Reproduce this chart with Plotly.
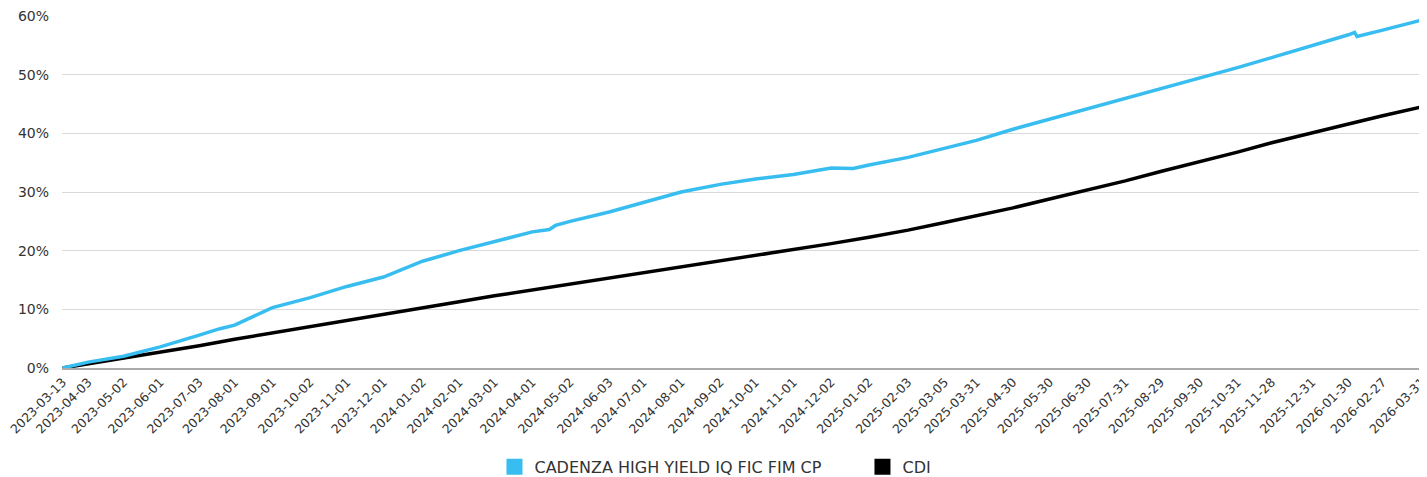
import plotly.graph_objects as go

tick_dates = ["2023-03-13", "2023-04-03", "2023-05-02", "2023-06-01", "2023-07-03", "2023-08-01",
              "2023-09-01", "2023-10-02", "2023-11-01", "2023-12-01", "2024-01-02", "2024-02-01",
              "2024-03-01", "2024-04-01", "2024-05-02", "2024-06-03", "2024-07-01", "2024-08-01",
              "2024-09-02", "2024-10-01", "2024-11-01", "2024-12-02", "2025-01-02", "2025-02-03",
              "2025-03-05", "2025-03-31", "2025-04-30", "2025-05-30", "2025-06-30", "2025-07-31",
              "2025-08-29", "2025-09-30", "2025-10-31", "2025-11-28", "2025-12-31", "2026-01-30",
              "2026-02-27", "2026-03-31"]

fund_dates = ["2023-03-13", "2023-04-03", "2023-05-02", "2023-06-01", "2023-07-03", "2023-07-20",
              "2023-08-01", "2023-09-01", "2023-10-02", "2023-11-01", "2023-12-01", "2024-01-02",
              "2024-02-01", "2024-03-01", "2024-04-01", "2024-04-15", "2024-04-20", "2024-05-02",
              "2024-06-03", "2024-07-01", "2024-08-01", "2024-09-02", "2024-10-01", "2024-11-01",
              "2024-12-02", "2024-12-20", "2025-01-02", "2025-02-03", "2025-03-05", "2025-03-31",
              "2025-04-30", "2025-05-30", "2025-06-30", "2025-07-31", "2025-08-29", "2025-09-30",
              "2025-10-31", "2025-11-28", "2025-12-31", "2026-01-30", "2026-02-04", "2026-02-06",
              "2026-02-27", "2026-03-31"]
fund_values = [0.0, 1.0, 2.0, 3.6, 5.6, 6.7,
               7.3, 10.3, 12.0, 13.9, 15.5, 18.2,
               20.0, 21.6, 23.2, 23.6, 24.3, 25.0,
               26.6, 28.2, 30.0, 31.3, 32.2, 33.0,
               34.1, 34.0, 34.6, 35.9, 37.5, 38.8,
               40.7, 42.4, 44.2, 45.9, 47.6, 49.5,
               51.2, 52.9, 54.9, 56.8, 57.2, 56.5,
               57.6, 59.3]

cdi_dates = tick_dates
cdi_values = [0.0, 0.7, 1.6, 2.7, 3.8, 4.9,
              6.0, 7.0, 8.1, 9.2, 10.3, 11.3,
              12.3, 13.3, 14.3, 15.3, 16.2, 17.2,
              18.2, 19.2, 20.2, 21.2, 22.3, 23.5,
              24.8, 25.9, 27.3, 28.8, 30.3, 31.9,
              33.5, 35.1, 36.8, 38.4, 40.0, 41.6,
              43.0, 44.5]

y_ticks = [0, 10, 20, 30, 40, 50, 60]
y_labels = [f"{v}%" for v in y_ticks]

BLUE = "#38bdf0"
BLACK = "#000000"
FONT = "DejaVu Sans"
TXT = "#333333"

fig = go.Figure()
fig.add_trace(go.Scatter(x=cdi_dates, y=cdi_values, mode="lines", name="CDI",
                         line=dict(color=BLACK, width=3.5), showlegend=False, cliponaxis=False))
fig.add_trace(go.Scatter(x=fund_dates, y=fund_values, mode="lines",
                         name="CADENZA HIGH YIELD IQ FIC FIM CP",
                         line=dict(color=BLUE, width=3.5), showlegend=False, cliponaxis=False))
# legend entries (square swatches)
fig.add_trace(go.Scatter(x=[None], y=[None], mode="markers", name="CADENZA HIGH YIELD IQ FIC FIM CP",
                         marker=dict(symbol="square", size=20, color=BLUE)))
fig.add_trace(go.Scatter(x=[None], y=[None], mode="markers", name="CDI",
                         marker=dict(symbol="square", size=20, color=BLACK)))

# page body has an 8px margin, so the figure is sized / offset to compensate
fig.update_layout(
    width=1419, height=469,
    margin=dict(l=54, r=5, t=8, b=109, autoexpand=False),
    paper_bgcolor="white", plot_bgcolor="white",
    font=dict(family=FONT, size=13, color=TXT),
    showlegend=True,
    legend=dict(orientation="h", x=0.318, xanchor="left", y=-0.281,
                yanchor="middle", font=dict(family=FONT, size=16, color=TXT),
                traceorder="normal", itemwidth=30, entrywidth=323),
)
fig.update_xaxes(type="date", range=["2023-03-12 12:00", "2026-03-31 06:00"],
                 tickmode="array", tickvals=tick_dates, ticktext=tick_dates,
                 tickangle=-45, tickfont=dict(family=FONT, size=12.5, color=TXT),
                 ticklabeloverflow="allow",
                 showgrid=False, showline=True, linecolor="#aaaaaa", linewidth=2,
                 ticks="", zeroline=False, automargin=False)
fig.update_yaxes(range=[0, 60], tickmode="array", tickvals=y_ticks, ticktext=y_labels,
                 showgrid=True, gridcolor="#d9d9d9", gridwidth=1,
                 zeroline=False, showline=False, ticks="", automargin=False,
                 ticklabeloverflow="allow",
                 tickfont=dict(family=FONT, size=14, color=TXT), ticklabelstandoff=12)

fig.write_html("out.html")
